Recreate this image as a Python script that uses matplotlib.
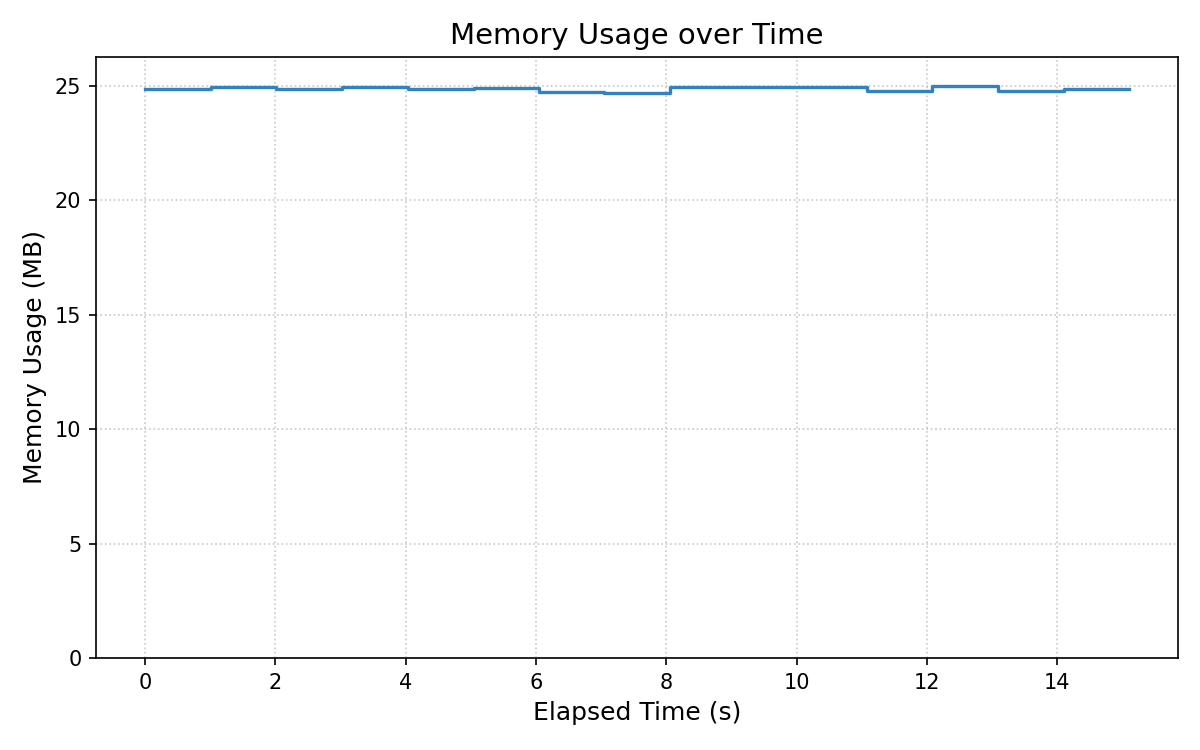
import matplotlib
matplotlib.use("Agg")
import matplotlib.pyplot as plt

# sampled memory readings
elapsed_s = [0.0, 1.01, 2.01, 3.02, 4.03, 5.04, 6.04, 7.05, 8.06, 9.06,
             10.07, 11.08, 12.08, 13.09, 14.10, 15.10]
memory_mb = [24.84, 24.96, 24.84, 24.96, 24.84, 24.89, 24.74, 24.67, 24.96, 24.96,
             24.93, 24.78, 25.00, 24.78, 24.87, 24.87]

fig, ax = plt.subplots(figsize=(8, 5), dpi=150)
ax.step(elapsed_s, memory_mb, where='post', color='#3182bd', linewidth=1.6)

ax.set_ylim(0, max(memory_mb) * 1.05)
ax.set_title('Memory Usage over Time', fontsize=14)
ax.set_xlabel('Elapsed Time (s)', fontsize=12)
ax.set_ylabel('Memory Usage (MB)', fontsize=12)
ax.tick_params(labelsize=10)
ax.grid(True, linestyle=':', color='#c8c8c8', linewidth=0.8)
ax.set_axisbelow(True)

fig.subplots_adjust(left=0.08, right=0.9817, top=0.924, bottom=0.1227)
fig.savefig('out.png')
